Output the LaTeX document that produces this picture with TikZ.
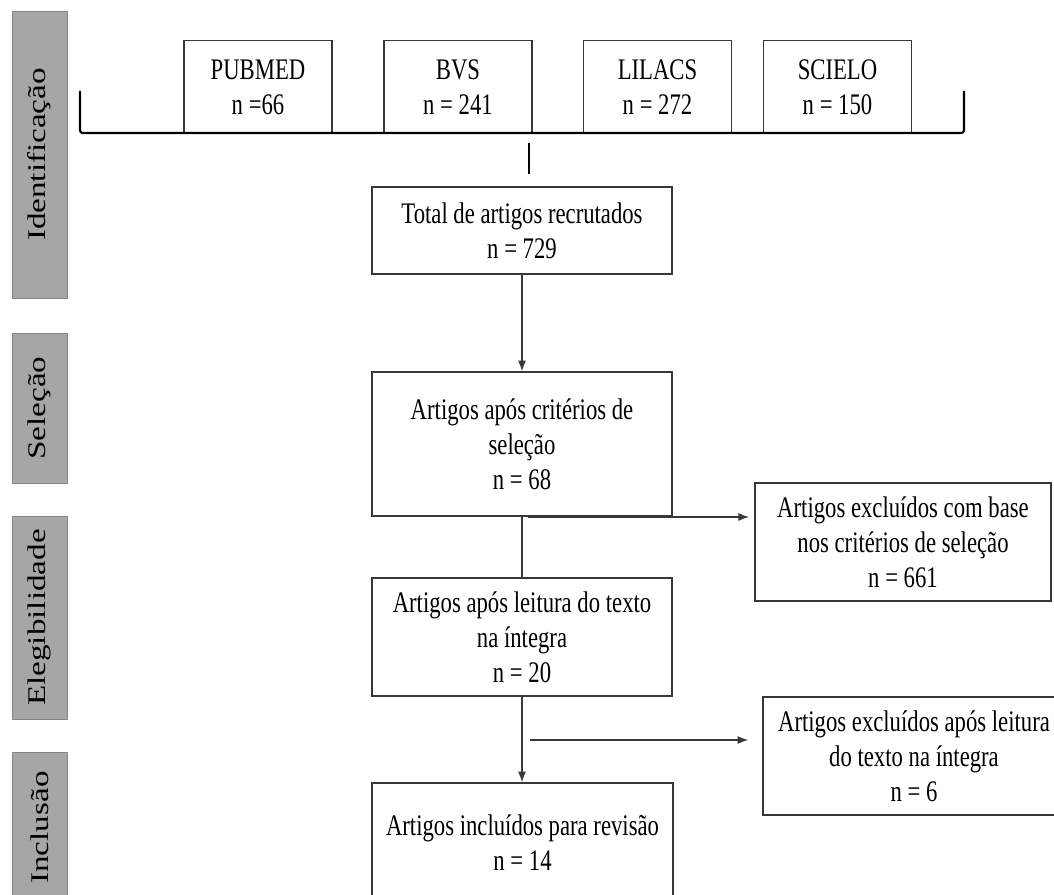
\documentclass[tikz,border=0pt]{standalone}
\usepackage{fontspec}
\usetikzlibrary{arrows.meta}
\newfontfamily\boxfont[FakeStretch=0.76]{Liberation Serif}
\newfontfamily\phasefont[FakeStretch=1.3]{Liberation Serif}
\definecolor{phasegray}{RGB}{166,166,166}
\definecolor{linegray}{RGB}{56,56,56}
\tikzset{
	box/.style={draw=linegray, line width=0.9pt, fill=white, align=center, inner sep=0pt, font=\boxfont\fontsize{17}{19.8}\selectfont},
	phase/.style={fill=phasegray, draw=phasegray!80!black, line width=0.5pt, rotate=90, minimum height=1.1cm, inner sep=0pt, font=\phasefont\fontsize{14.5}{17}\selectfont},
	flow/.style={draw=linegray, line width=0.6pt},
	tip/.style={-{Latex[length=6pt,width=4.5pt]}}
}
\begin{document}
\begin{tikzpicture}[x=0.02cm, y=-0.02cm]
				\useasboundingbox (0,0) rectangle (1054,895);
				\clip (0,0) rectangle (1054,895);
				\foreach \nm/\t/\y/\h in {phident/Identificação/154.5/5.74, phsel/Seleção/408/3, phleg/Elegibilidade/617.5/4.06, phinc/Inclusão/827.5/3.02}{
					\node[phase, minimum width=\h cm] (\nm) at (39.5,\y) {\t};
				}
				
				\foreach \i/\db/\cnt/\x in {1/PUBMED/n =66/258, 2/BVS/n = 241/458, 3/LILACS/n = 272/657.5, 4/SCIELO/n = 150/837.5}{
					\node[box, minimum width=2.96cm, minimum height=1.86cm] (db\i) at (\x,87) {\db\\\cnt};
				}
				\draw[line width=1.2pt, rounded corners=1.5pt] (80,91) -- (80,133) -- (964,133) -- (964,91);
				\coordinate (tickt) at (529,143);
				\coordinate (tickb) at (529,174);
				\draw[line width=1.2pt] (tickt) -- (tickb);
				
				\node[box, minimum width=6cm, minimum height=1.74cm] (total) at (522,230.5) {Total de artigos recrutados\\n = 729};
				\node[box, minimum width=6cm, minimum height=2.88cm] (sel) at (522,444) {Artigos após critérios de\\seleção\\n = 68};
				\node[box, minimum width=6cm, minimum height=2.36cm] (leit) at (522,637) {Artigos após leitura do texto\\na íntegra\\n = 20};
				\node[box, minimum width=6.02cm, minimum height=2.38cm] (inclbox) at (522.5,842.5) {Artigos incluídos para revisão\\n = 14};
				\node[box, minimum width=5.92cm, minimum height=2.36cm] (exc1) at (903,542) {Artigos excluídos com base\\nos critérios de seleção\\n = 661};
				\node[box, minimum width=6.04cm, minimum height=2.36cm] (exc2) at (914,756) {Artigos excluídos após leitura\\do texto na íntegra\\n = 6};
				
				\draw[flow, tip] (total) -- (sel);
				\draw[flow] (sel) -- (leit);
				\draw[flow, tip] (leit.south) -- (leit.south |- inclbox.north);
				\coordinate (br1) at (528,517);
				\coordinate (br2) at (530,740);
				\draw[flow, tip, shorten >=3pt] (br1) -- (br1 -| exc1.west);
				\draw[flow, tip, shorten >=8pt] (br2) -- (br2 -| exc2.west);
			\end{tikzpicture}
\end{document}
